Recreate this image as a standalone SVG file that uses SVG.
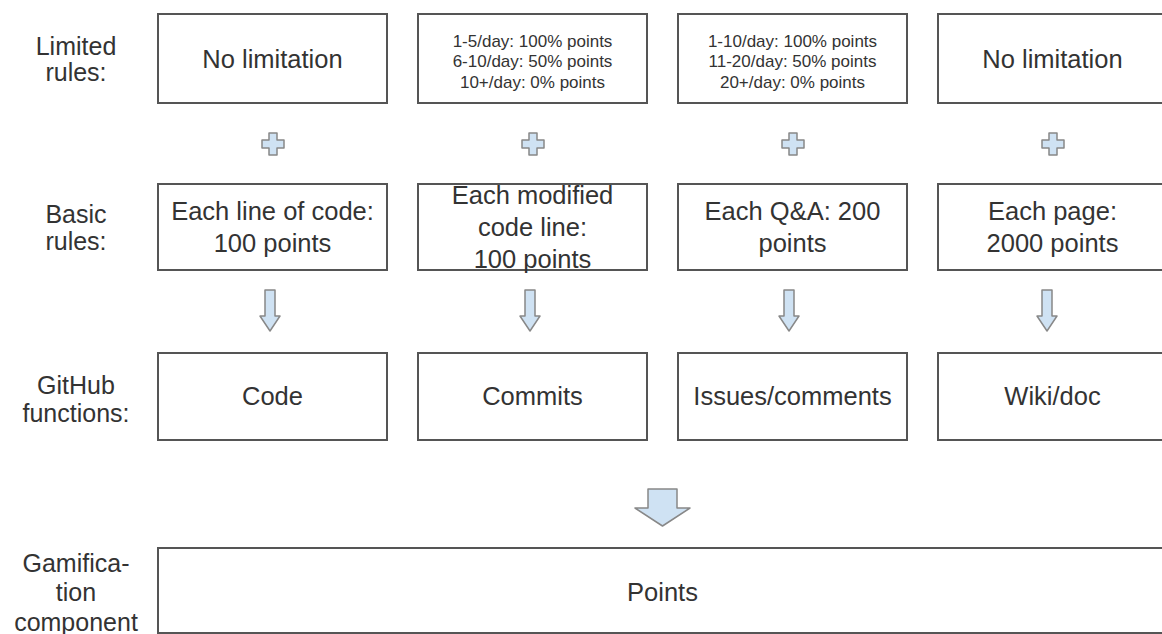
<svg xmlns="http://www.w3.org/2000/svg" width="1162" height="634" viewBox="0 0 1162 634">
<style>
.box{fill:#fff;stroke:#555;stroke-width:2}
.t{font-family:"Liberation Sans",Arial,sans-serif;font-size:25.5px;fill:#333;text-anchor:middle}
.s{font-family:"Liberation Sans",Arial,sans-serif;font-size:17px;fill:#333;text-anchor:middle}
.lab{font-family:"Liberation Sans",Arial,sans-serif;font-size:25px;fill:#333;text-anchor:middle}
.sym{fill:#cfe2f3;stroke:#888;stroke-width:1.5;stroke-linejoin:round}
</style>
<rect width="1162" height="634" fill="#fff"/>
<defs>
<path id="plus" d="M-4,-11 H4 V-4 H11 V4 H4 V11 H-4 V4 H-11 V-4 H-4 Z"/>
<path id="darr" d="M-5,0 H5 V26 H10 L0,41 L-10,26 H-5 Z"/>
</defs>
<g id="labels">
<text class="lab" x="76" y="55">Limited</text>
<text class="lab" x="76" y="81">rules:</text>
<text class="lab" x="76" y="223">Basic</text>
<text class="lab" x="76" y="250">rules:</text>
<text class="lab" x="76" y="394">GitHub</text>
<text class="lab" x="76" y="422">functions:</text>
<text class="lab" x="76" y="572">Gamifica-</text>
<text class="lab" x="76" y="601">tion</text>
<text class="lab" x="76" y="631">component</text>
</g>
<g id="limit1"><rect class="box" x="158" y="14" width="229" height="89"/><text class="t" x="272.5" y="68">No limitation</text></g>
<g id="limit2"><rect class="box" x="418" y="14" width="229" height="89"/>
<text class="s" x="532.5" y="46.5">1-5/day: 100% points</text>
<text class="s" x="532.5" y="67">6-10/day: 50% points</text>
<text class="s" x="532.5" y="87.5">10+/day: 0% points</text></g>
<g id="limit3"><rect class="box" x="678" y="14" width="229" height="89"/>
<text class="s" x="792.5" y="46.5">1-10/day: 100% points</text>
<text class="s" x="792.5" y="67">11-20/day: 50% points</text>
<text class="s" x="792.5" y="87.5">20+/day: 0% points</text></g>
<g id="limit4"><rect class="box" x="938" y="14" width="229" height="89"/><text class="t" x="1052.5" y="68">No limitation</text></g>
<g id="basic1"><rect class="box" x="158" y="184" width="229" height="86"/><text class="t" x="272.5" y="220">Each line of code:</text><text class="t" x="272.5" y="252">100 points</text></g>
<g id="basic2"><rect class="box" x="418" y="184" width="229" height="86"/><text class="t" x="532.5" y="204">Each modified</text><text class="t" x="532.5" y="236">code line:</text><text class="t" x="532.5" y="268">100 points</text></g>
<g id="basic3"><rect class="box" x="678" y="184" width="229" height="86"/><text class="t" x="792.5" y="220">Each Q&amp;A: 200</text><text class="t" x="792.5" y="252">points</text></g>
<g id="basic4"><rect class="box" x="938" y="184" width="229" height="86"/><text class="t" x="1052.5" y="220">Each page:</text><text class="t" x="1052.5" y="252">2000 points</text></g>
<g id="gh1"><rect class="box" x="158" y="353" width="229" height="87"/><text class="t" x="272.5" y="405">Code</text></g>
<g id="gh2"><rect class="box" x="418" y="353" width="229" height="87"/><text class="t" x="532.5" y="405">Commits</text></g>
<g id="gh3"><rect class="box" x="678" y="353" width="229" height="87"/><text class="t" x="792.5" y="405">Issues/comments</text></g>
<g id="gh4"><rect class="box" x="938" y="353" width="229" height="87"/><text class="t" x="1052.5" y="405">Wiki/doc</text></g>
<g id="points"><rect class="box" x="158" y="548" width="1010" height="85"/><text class="t" x="662.5" y="601">Points</text></g>
<g id="connectors">
<use href="#plus" class="sym" x="273" y="144"/>
<use href="#plus" class="sym" x="533" y="144"/>
<use href="#plus" class="sym" x="793" y="144"/>
<use href="#plus" class="sym" x="1053" y="144"/>
<use href="#darr" class="sym" x="270" y="290"/>
<use href="#darr" class="sym" x="530" y="290"/>
<use href="#darr" class="sym" x="789" y="290"/>
<use href="#darr" class="sym" x="1047" y="290"/>
<path class="sym" d="M648,489 H677 V508 H690 L662.5,526 L635,508 H648 Z"/>
</g>
</svg>
